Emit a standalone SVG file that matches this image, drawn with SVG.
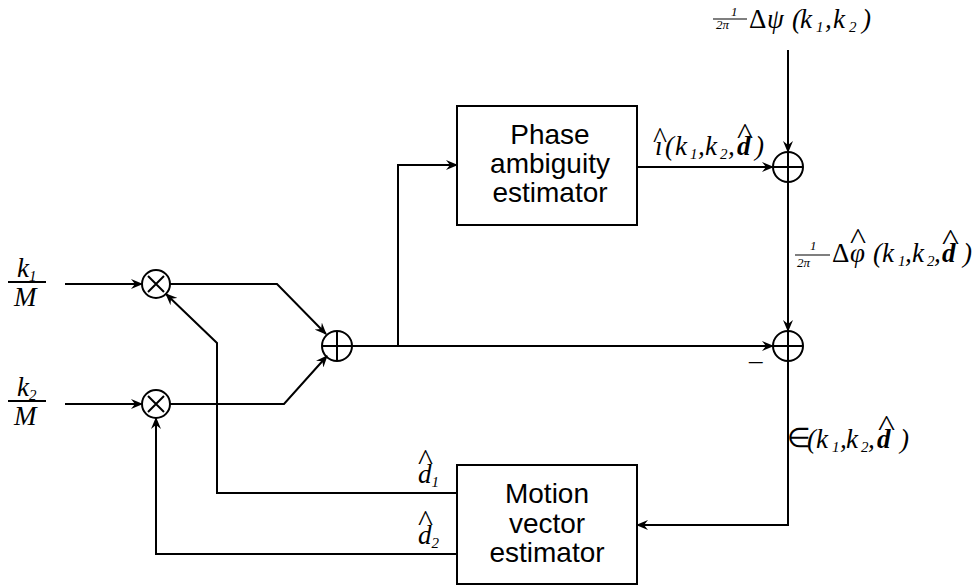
<svg xmlns="http://www.w3.org/2000/svg" width="977" height="588" viewBox="0 0 977 588">
<style>
.ln{fill:none;stroke:#000;stroke-width:2}
.box{fill:#fff;stroke:#000;stroke-width:2}
.bt{font-family:"Liberation Sans",Arial,sans-serif;font-size:28px;text-anchor:middle;fill:#000}
.m{font-family:"Liberation Serif","Times New Roman",serif;font-style:italic;font-size:27px;fill:#000}
.s{font-size:15px}
.b{font-weight:bold}
.up{font-style:normal}
.fr{font-family:"Liberation Serif","Times New Roman",serif;font-style:italic;font-size:13px;fill:#000}
.hat{font-family:"Liberation Serif","Times New Roman",serif;font-size:30px;fill:#000}
</style>
<defs>
<marker id="ah" markerWidth="12" markerHeight="10" refX="11" refY="5" orient="auto" markerUnits="userSpaceOnUse">
<path d="M0,0 L12,5 L0,10 L4,5 z" fill="#000"/>
</marker>
</defs>

<g id="connectors">
<polyline class="ln" points="65,284 142,284" marker-end="url(#ah)"/>
<polyline class="ln" points="65,404 142,404" marker-end="url(#ah)"/>
<polyline class="ln" points="170,284 277,284 326,334" marker-end="url(#ah)"/>
<polyline class="ln" points="170,404 284,404 327,356" marker-end="url(#ah)"/>
<polyline class="ln" points="352,346 773,346" marker-end="url(#ah)"/>
<polyline class="ln" points="398,346 398,165 457,165" marker-end="url(#ah)"/>
<polyline class="ln" points="637,167 773,167" marker-end="url(#ah)"/>
<polyline class="ln" points="788,50 788,152" marker-end="url(#ah)"/>
<polyline class="ln" points="788,182 788,331" marker-end="url(#ah)"/>
<polyline class="ln" points="788,361 788,525 637,525" marker-end="url(#ah)"/>
<polyline class="ln" points="457,493 217,493 217,343 166,294" marker-end="url(#ah)"/>
<polyline class="ln" points="457,554 156,554 156,418" marker-end="url(#ah)"/>
</g>

<g id="mult1">
<circle class="ln" cx="156" cy="284" r="14"/>
<path class="ln" d="M148,276 L164,292 M164,276 L148,292"/>
</g>
<g id="mult2">
<circle class="ln" cx="156" cy="404" r="14"/>
<path class="ln" d="M148,396 L164,412 M164,396 L148,412"/>
</g>
<g id="sum0">
<circle class="ln" cx="337" cy="346" r="15"/>
<path class="ln" d="M322,346 L352,346 M337,331 L337,361"/>
</g>
<g id="sum1">
<circle class="ln" cx="788" cy="167" r="15"/>
<path class="ln" d="M773,167 L803,167 M788,152 L788,182"/>
</g>
<g id="sum2">
<circle class="ln" cx="788" cy="346" r="15"/>
<path class="ln" d="M773,346 L803,346 M788,331 L788,361"/>
<text class="m up" x="749" y="360" font-size="24">_</text>
</g>

<g id="phase">
<rect class="box" x="457" y="106" width="180" height="119"/>
<text class="bt" x="550" y="144">Phase</text>
<text class="bt" x="550" y="173">ambiguity</text>
<text class="bt" x="550" y="202">estimator</text>
</g>
<g id="motion">
<rect class="box" x="457" y="465" width="180" height="119"/>
<text class="bt" x="547" y="503">Motion</text>
<text class="bt" x="547" y="533">vector</text>
<text class="bt" x="547" y="562">estimator</text>
</g>

<g id="in-k1">
<text class="m" x="17" y="277">k<tspan class="s" dy="4">1</tspan></text>
<line class="ln" x1="8" y1="282" x2="46" y2="282"/>
<text class="m" x="14" y="306">M</text>
</g>
<g id="in-k2">
<text class="m" x="17" y="396">k<tspan class="s" dy="4">2</tspan></text>
<line class="ln" x1="8" y1="401" x2="46" y2="401"/>
<text class="m" x="14" y="425">M</text>
</g>

<g id="label-psi">
<text class="fr" x="731" y="16">1</text>
<line x1="713" y1="19" x2="747" y2="19" stroke="#000" stroke-width="1.2"/>
<text class="fr" x="716" y="29">2π</text>
<text class="m up" x="749" y="28">Δ</text>
<text class="m" x="767" y="28" font-size="30">ψ</text>
<text class="m"><tspan x="792" y="28">(</tspan><tspan x="800" y="28">k</tspan><tspan class="s" x="816" y="32">1</tspan><tspan x="825" y="28">,</tspan><tspan x="833" y="28">k</tspan><tspan class="s" x="849" y="32">2</tspan><tspan x="862" y="28">)</tspan></text>
</g>

<g id="label-i">
<text class="m"><tspan x="655" y="155">ı</tspan><tspan x="665" y="155">(</tspan><tspan x="675" y="155">k</tspan><tspan class="s" x="690" y="159">1</tspan><tspan x="698" y="155">,</tspan><tspan x="705" y="155">k</tspan><tspan class="s" x="720" y="159">2</tspan><tspan x="728" y="155">,</tspan><tspan class="b" x="737" y="155">d</tspan><tspan x="755" y="155">)</tspan></text>
<text class="hat" x="653" y="148" textLength="14" lengthAdjust="spacingAndGlyphs">^</text>
<text class="hat" x="737" y="144" textLength="16" lengthAdjust="spacingAndGlyphs">^</text>
</g>

<g id="label-phi">
<text class="fr" x="810" y="250">1</text>
<line x1="795" y1="255" x2="830" y2="255" stroke="#000" stroke-width="1.2"/>
<text class="fr" x="797" y="267">2π</text>
<text class="m up" x="832" y="262">Δ</text>
<text class="m" x="850" y="262">φ</text>
<text class="hat" x="850" y="249" textLength="16" lengthAdjust="spacingAndGlyphs">^</text>
<text class="m"><tspan x="873" y="262">(</tspan><tspan x="882" y="262">k</tspan><tspan class="s" x="898" y="266">1</tspan><tspan x="905" y="262">,</tspan><tspan x="912" y="262">k</tspan><tspan class="s" x="927" y="266">2</tspan><tspan x="934" y="262">,</tspan><tspan class="b" x="942" y="262">d</tspan><tspan x="963" y="262">)</tspan></text>
<text class="hat" x="942" y="250" textLength="17" lengthAdjust="spacingAndGlyphs">^</text>
</g>

<g id="label-eps">
<text class="m up" x="787" y="447" font-size="20">∈</text>
<text class="m"><tspan x="807" y="448">(</tspan><tspan x="816" y="448">k</tspan><tspan class="s" x="832" y="452">1</tspan><tspan x="840" y="448">,</tspan><tspan x="846" y="448">k</tspan><tspan class="s" x="861" y="452">2</tspan><tspan x="868" y="448">,</tspan><tspan class="b" x="877" y="448">d</tspan><tspan x="900" y="448">)</tspan></text>
<text class="hat" x="878" y="436" textLength="17" lengthAdjust="spacingAndGlyphs">^</text>
</g>

<g id="label-d1">
<text class="m" x="418" y="483">d<tspan class="s" dy="4">1</tspan></text>
<text class="hat" x="418" y="470" textLength="15" lengthAdjust="spacingAndGlyphs">^</text>
</g>
<g id="label-d2">
<text class="m" x="418" y="544">d<tspan class="s" dy="4">2</tspan></text>
<text class="hat" x="418" y="531" textLength="15" lengthAdjust="spacingAndGlyphs">^</text>
</g>
</svg>
